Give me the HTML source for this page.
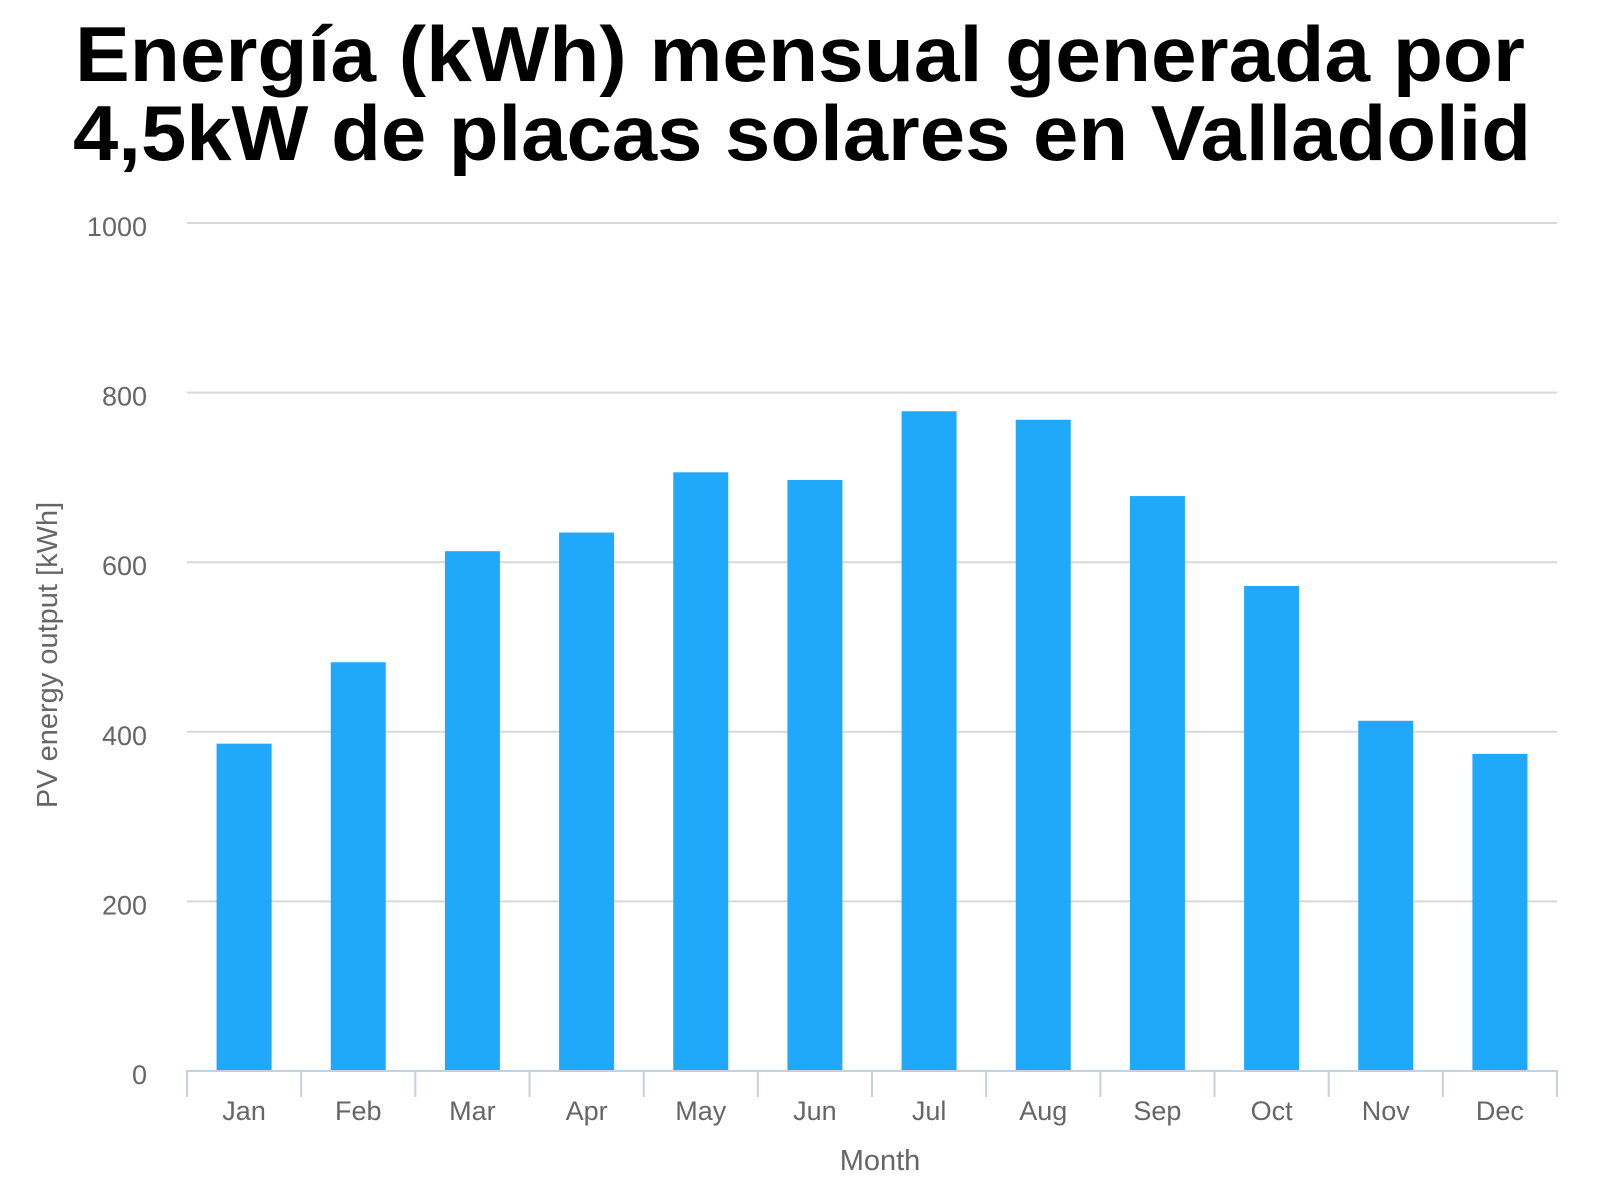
<!DOCTYPE html>
<html><head><meta charset="utf-8"><style>
html,body{margin:0;padding:0;background:#fff;}
svg{display:block;font-family:"Liberation Sans",sans-serif;}
</style></head><body>
<svg id="chart" width="1600" height="1200" viewBox="0 0 1600 1200">
<text x="800" y="81" text-anchor="middle" font-size="78" font-weight="bold" fill="#000" textLength="1450" lengthAdjust="spacingAndGlyphs">Energía (kWh) mensual generada por</text>
<text x="802" y="160" text-anchor="middle" font-size="78" font-weight="bold" fill="#000" textLength="1458" lengthAdjust="spacingAndGlyphs">4,5kW de placas solares en Valladolid</text>
<g id="grid"></g><g id="bars"></g><g id="xaxis"></g>
<text transform="translate(57,655) rotate(-90)" text-anchor="middle" font-size="29" fill="#666">PV energy output [kWh]</text>
<text x="880" y="1170" text-anchor="middle" font-size="29" fill="#666">Month</text>
</svg>
<script>
const categories=["Jan","Feb","Mar","Apr","May","Jun","Jul","Aug","Sep","Oct","Nov","Dec"];
const values=[386,482,613,635,706,697,778,768,678,572,413,374];
const yTicks=[0,200,400,600,800,1000];
const NS="http://www.w3.org/2000/svg";
const x0=187,x1=1557,yTop=223,yBase=1071,yMax=1000;
const band=(x1-x0)/categories.length;
function y(v){return yBase-(v/yMax)*(yBase-yTop);}
function mk(tag,attrs,parent){const e=document.createElementNS(NS,tag);for(const k in attrs)e.setAttribute(k,attrs[k]);parent.appendChild(e);return e;}
const grid=document.getElementById('grid'),bars=document.getElementById('bars'),xa=document.getElementById('xaxis');
yTicks.forEach(t=>{
  if(t>0){const l=mk('line',{x1:x0,x2:x1,y1:y(t),y2:y(t),stroke:'#d8d8d8','stroke-width':2},grid);
  
  }
  const tx=mk('text',{x:147,y:y(t)+13,'text-anchor':'end','font-size':27,fill:'#666'},grid);
  tx.textContent=t;
  
  
});
categories.forEach((c,i)=>{
  const cx=x0+band*(i+0.5),w=55;
  const r=mk('rect',{x:cx-w/2,y:y(values[i]),width:w,height:yBase-y(values[i]),fill:'#20a8fb'},bars);
  
  
  const tx=mk('text',{x:cx,y:1120,'text-anchor':'middle','font-size':27,fill:'#666'},xa);
  tx.textContent=c;
  
  
});
const ax=mk('line',{x1:x0-1,x2:x1+1,y1:yBase,y2:yBase,stroke:'#c4d0e0','stroke-width':2},xa);


for(let i=0;i<=categories.length;i++){
  const tk=mk('line',{x1:x0+band*i,x2:x0+band*i,y1:yBase,y2:yBase+26,stroke:'#c4d0e0','stroke-width':2},xa);
  
  
}
</script>
</body></html>
